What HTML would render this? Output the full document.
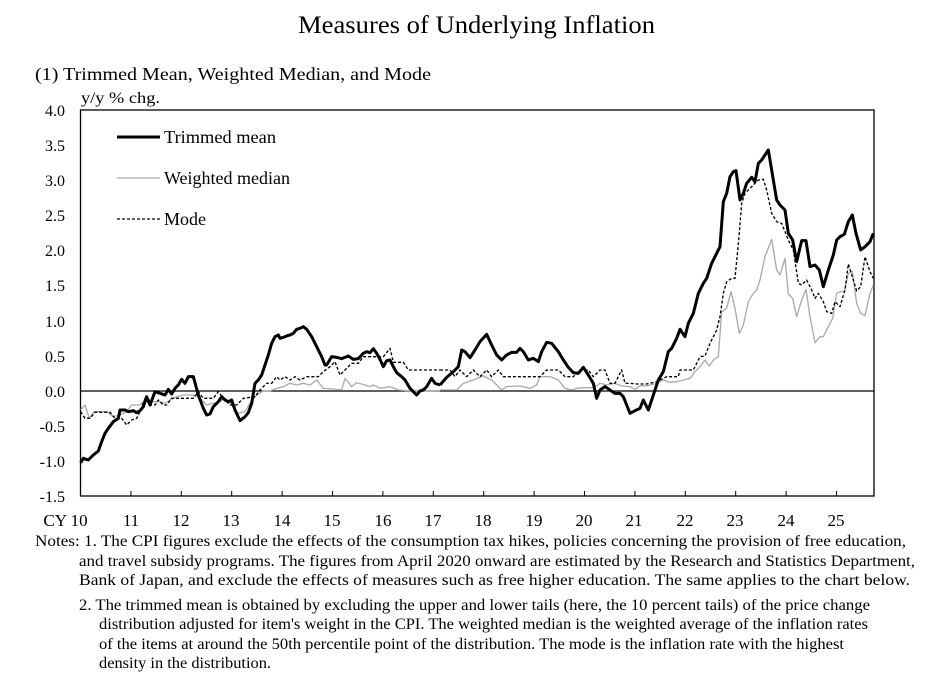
<!DOCTYPE html>
<html><head><meta charset="utf-8"><style>
html,body{margin:0;padding:0;background:#fff}
svg{display:block}
text{font-family:"Liberation Serif",serif;fill:#000}
</style></head><body>
<svg width="935" height="688" viewBox="0 0 935 688" xmlns="http://www.w3.org/2000/svg">
<text x="298" y="33" font-size="25" textLength="357" lengthAdjust="spacingAndGlyphs">Measures of Underlying Inflation</text>
<text x="35" y="80" font-size="18" textLength="396" lengthAdjust="spacingAndGlyphs">(1) Trimmed Mean, Weighted Median, and Mode</text>
<text x="81" y="103" font-size="16" textLength="79" lengthAdjust="spacingAndGlyphs">y/y % chg.</text>
<g font-size="16" text-anchor="end">
<text x="65" y="116">4.0</text><text x="65" y="151">3.5</text><text x="65" y="186">3.0</text>
<text x="65" y="221">2.5</text><text x="65" y="256">2.0</text><text x="65" y="291">1.5</text>
<text x="65" y="327">1.0</text><text x="65" y="362">0.5</text><text x="65" y="397">0.0</text>
<text x="65" y="432">-0.5</text><text x="65" y="467">-1.0</text><text x="65" y="502">-1.5</text>
</g>
<g font-size="17" text-anchor="middle">
<text x="65.5" y="526">CY 10</text>
<text x="131" y="526">11</text><text x="181" y="526">12</text><text x="231" y="526">13</text><text x="282" y="526">14</text><text x="332" y="526">15</text><text x="383" y="526">16</text><text x="433" y="526">17</text><text x="483" y="526">18</text><text x="534" y="526">19</text><text x="584" y="526">20</text><text x="634" y="526">21</text><text x="685" y="526">22</text><text x="735" y="526">23</text><text x="786" y="526">24</text><text x="836" y="526">25</text>
</g>
<rect x="80.5" y="110" width="793.5" height="386" fill="none" stroke="#000" stroke-width="1.3"/>
<line x1="80.5" y1="391" x2="874" y2="391" stroke="#000" stroke-width="1.3"/>
<g stroke="#000" stroke-width="1">
<line x1="130.9" y1="496" x2="130.9" y2="491"/><line x1="181.3" y1="496" x2="181.3" y2="491"/><line x1="231.7" y1="496" x2="231.7" y2="491"/><line x1="282.1" y1="496" x2="282.1" y2="491"/><line x1="332.5" y1="496" x2="332.5" y2="491"/><line x1="382.9" y1="496" x2="382.9" y2="491"/><line x1="433.3" y1="496" x2="433.3" y2="491"/><line x1="483.7" y1="496" x2="483.7" y2="491"/><line x1="534.1" y1="496" x2="534.1" y2="491"/><line x1="584.5" y1="496" x2="584.5" y2="491"/><line x1="634.9" y1="496" x2="634.9" y2="491"/><line x1="685.3" y1="496" x2="685.3" y2="491"/><line x1="735.7" y1="496" x2="735.7" y2="491"/><line x1="786.1" y1="496" x2="786.1" y2="491"/><line x1="836.5" y1="496" x2="836.5" y2="491"/>
</g>
<!-- legend -->
<line x1="117" y1="137" x2="160" y2="137" stroke="#000" stroke-width="3"/>
<text x="164" y="143" font-size="18" textLength="112" lengthAdjust="spacingAndGlyphs">Trimmed mean</text>
<line x1="117" y1="178" x2="160" y2="178" stroke="#aaa" stroke-width="1.3"/>
<text x="164" y="184" font-size="18">Weighted median</text>
<line x1="117" y1="219" x2="160" y2="219" stroke="#000" stroke-width="1.3" stroke-dasharray="3,2"/>
<text x="164" y="225" font-size="18">Mode</text>
<!-- series -->
<g transform="translate(40,90) scale(0.33333)" fill="none" stroke-linejoin="round">
<polyline stroke="#aaa" stroke-width="4" points="122,960 135,945 148,985 162,965 180,965 200,965 220,980 240,975 260,965 275,945 300,945 320,925 340,935 360,935 375,940 390,930 410,920 430,915 460,915 480,925 500,945 520,940 540,935 555,925 575,945 595,970 615,965 630,940 650,915 670,903 690,903 710,895 730,890 750,880 770,885 790,880 810,885 830,870 850,895 880,897 905,900 915,865 935,890 950,878 975,885 990,890 1000,885 1020,895 1050,890 1075,900 1100,902 1150,903 1200,902"/>
<polyline stroke="#000" stroke-width="4" stroke-dasharray="9,6" points="122,965 135,985 150,985 165,967 210,967 225,985 245,985 260,1005 275,990 290,985 300,965 315,925 330,945 345,945 355,930 370,945 380,945 395,925 410,925 430,925 460,925 475,905 490,925 520,925 535,905 550,925 570,945 590,945 610,925 645,920 660,900 680,880 695,880 710,860 720,870 735,860 750,870 765,860 780,870 800,860 815,860 835,860 850,845 870,830 885,815 900,855 915,840 935,820 955,820 970,800 1000,800 1030,800 1050,775 1060,817 1090,817 1105,840 1150,840 1200,840"/>
<polyline stroke="#000" stroke-width="9" points="122,1118 130,1105 145,1110 160,1095 175,1083 185,1055 195,1030 205,1015 220,995 235,985 240,960 255,960 265,965 280,962 290,968 300,962 310,950 320,920 330,945 345,905 360,910 375,915 385,898 395,912 405,895 415,885 425,868 435,880 445,860 460,860 475,915 490,955 500,975 510,972 520,950 535,935 545,920 555,930 565,935 575,930 585,960 600,992 615,980 625,968 635,940 645,880 655,870 665,855 675,825 685,795 695,760 705,740 715,735 720,745 730,742 740,738 750,735 760,730 770,718 780,715 790,710 800,718 815,740 825,760 835,780 845,800 855,825 860,825 875,800 890,802 905,806 925,798 940,808 955,806 970,790 980,785 990,788 1000,776 1010,790 1020,808 1030,830 1040,812 1050,810 1060,830 1070,848 1085,860 1095,870 1110,895 1120,905 1130,915 1140,903 1150,900 1160,890 1175,865 1185,880 1200,885"/>
</g>
<g transform="translate(440,90) scale(0.33333)" fill="none" stroke-linejoin="round">
<polyline stroke="#aaa" stroke-width="4" points="0,900 50,900 70,880 100,870 130,858 155,870 185,900 200,890 240,888 270,895 290,885 300,860 330,860 355,870 375,895 395,900 410,895 430,893 460,893 480,880 500,885 525,880 545,888 570,890 585,898 600,887 625,887 650,880 670,870 690,877 710,875 730,870 750,865 765,845 780,830 795,810 808,828 820,810 835,800 845,665 860,655 873,605 885,655 898,730 910,705 925,635 940,610 950,600 960,570 975,500 995,448 1010,540 1020,555 1035,505 1045,612 1058,625 1070,680 1085,630 1098,598 1110,680 1125,758 1140,740 1150,740 1165,710 1178,685 1190,610 1200,605 1213,605 1225,550 1237,545 1250,640 1262,670 1275,677 1290,610 1300,585"/>
<polyline stroke="#000" stroke-width="4" stroke-dasharray="9,6" points="0,840 30,840 45,860 60,840 80,860 100,840 120,860 140,840 155,860 175,840 190,860 230,860 300,860 320,840 355,840 375,860 400,860 420,840 445,840 460,860 480,840 495,840 510,880 525,880 545,840 555,880 570,880 590,882 620,882 650,875 680,860 715,860 720,840 760,840 780,800 795,798 810,760 830,720 840,680 850,610 860,575 875,565 885,565 897,440 905,340 915,310 930,295 940,285 955,270 970,268 980,300 995,370 1010,395 1025,400 1045,450 1060,480 1075,580 1085,585 1100,570 1115,600 1125,625 1135,610 1150,635 1160,665 1175,670 1185,635 1200,650 1215,600 1225,522 1237,560 1250,603 1262,590 1275,500 1290,545 1300,565"/>
<polyline stroke="#000" stroke-width="9" points="0,885 20,862 40,845 55,830 65,780 75,785 90,803 105,780 120,755 140,733 155,765 170,795 185,810 200,795 215,787 230,787 240,775 250,785 265,810 280,805 295,815 305,785 320,757 335,760 355,785 370,810 385,832 400,848 415,850 430,832 445,855 460,880 470,925 480,900 495,890 510,900 525,910 540,910 550,920 560,945 570,970 585,962 600,955 610,930 625,960 640,915 655,870 670,845 685,785 695,775 710,745 720,718 735,740 745,700 760,670 775,610 790,580 800,565 815,520 830,490 840,470 850,335 860,310 870,260 880,245 888,242 900,330 910,310 920,280 935,262 945,275 955,220 965,210 975,195 985,180 995,240 1010,330 1020,345 1035,360 1045,430 1058,450 1070,515 1085,452 1098,452 1110,530 1125,525 1138,540 1150,590 1165,540 1180,495 1190,450 1200,440 1213,433 1225,395 1237,375 1248,430 1262,480 1275,470 1290,455 1300,430"/>
</g>
<!-- notes -->
<g font-size="16">
<text x="35" y="546" textLength="871" lengthAdjust="spacingAndGlyphs">Notes: 1. The CPI figures exclude the effects of the consumption tax hikes, policies concerning the provision of free education,</text>
<text x="79" y="566" textLength="836" lengthAdjust="spacingAndGlyphs">and travel subsidy programs. The figures from April 2020 onward are estimated by the Research and Statistics Department,</text>
<text x="79" y="585" textLength="831" lengthAdjust="spacingAndGlyphs">Bank of Japan, and exclude the effects of measures such as free higher education. The same applies to the chart below.</text>
<text x="79" y="610" textLength="791" lengthAdjust="spacingAndGlyphs">2. The trimmed mean is obtained by excluding the upper and lower tails (here, the 10 percent tails) of the price change</text>
<text x="99" y="629" textLength="769" lengthAdjust="spacingAndGlyphs">distribution adjusted for item's weight in the CPI. The weighted median is the weighted average of the inflation rates</text>
<text x="99" y="649" textLength="745" lengthAdjust="spacingAndGlyphs">of the items at around the 50th percentile point of the distribution. The mode is the inflation rate with the highest</text>
<text x="99" y="668" textLength="172" lengthAdjust="spacingAndGlyphs">density in the distribution.</text>
</g>
</svg>
</body></html>
